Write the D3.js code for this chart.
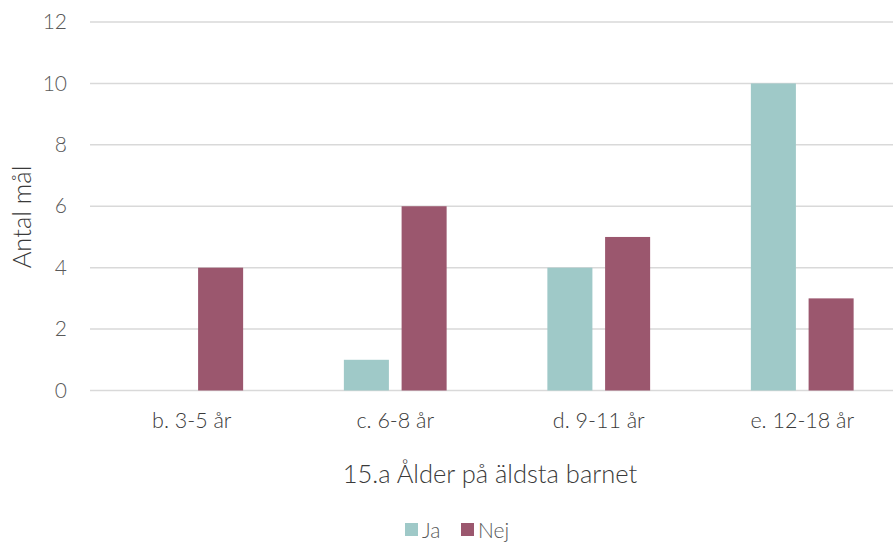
<!DOCTYPE html>
<html><head><meta charset="utf-8">
<script src="https://cdn.jsdelivr.net/npm/d3@7"></script>
<style>body{margin:0;background:#fff}svg{display:block}text{font-family:Lato,"Open Sans",sans-serif;font-weight:300}</style>
</head><body><svg id="c" width="893" height="542"></svg>
<script>
const categories = ["b. 3-5 år","c. 6-8 år","d. 9-11 år","e. 12-18 år"];
const seriesNames = ["Ja","Nej"];
const ja = [0,1,4,10];
const nej = [4,6,5,3];
const yTicks = [0,2,4,6,8,10,12];
const colors = ["#9fc9c8","#9b576e"];
const xTitle = "15.a Ålder på äldsta barnet";
const yTitle = "Antal mål";

(function(){
const svg = d3.select("#c");
const mLeft = 90, mRight = 904, mTop = 22, mBottom = 390.5;
const x = d3.scaleBand().domain(categories).range([mLeft,mRight]);
const y = d3.scaleLinear().domain([0,12]).range([mBottom,mTop]);
const groupW = x.bandwidth()*0.505;
const x1 = d3.scaleBand().domain(seriesNames).range([0,groupW]).paddingInner(0.22);

svg.append("g").selectAll("line").data(yTicks).join("line")
  .attr("x1",mLeft).attr("x2",mRight).attr("y1",d=>y(d)).attr("y2",d=>y(d))
  .attr("stroke","#d9d9d9").attr("stroke-width",1.5);

const yAxis = d3.axisLeft(y).tickValues(yTicks).tickSize(0).tickPadding(0);
const ya = svg.append("g").attr("transform","translate(67,0)").call(yAxis);
ya.select(".domain").remove();
ya.selectAll("text").attr("font-size",21).attr("fill","#595959").attr("font-family","Lato").attr("font-weight",300);

const data = [ja,nej];
data.forEach((vals,si)=>{
  svg.append("g").selectAll("rect").data(vals).join("rect")
    .attr("x",(d,i)=>x(categories[i])+(x.bandwidth()-groupW)/2+x1(seriesNames[si]))
    .attr("width",x1.bandwidth())
    .attr("y",d=>y(d)).attr("height",d=>y(0)-y(d))
    .attr("fill",colors[si]);
});

const xAxis = d3.axisBottom(x).tickSize(0).tickPadding(0);
const xa = svg.append("g").attr("transform","translate(0,0)").call(xAxis);
xa.select(".domain").remove();
xa.selectAll("text").attr("dy",null).attr("y",428).attr("font-size",21.5).attr("fill","#3a3a3a").attr("font-family","Lato").attr("font-weight",300);

svg.append("text").attr("x",490).attr("y",483).attr("text-anchor","middle")
  .attr("font-size",25.5).attr("fill","#3a3a3a").text(xTitle);
svg.append("text").attr("transform","translate(31,217) rotate(-90)").attr("text-anchor","middle")
  .attr("font-size",25.5).attr("fill","#3a3a3a").text(yTitle);

const lg = svg.append("g");
const lx = [405,461];
seriesNames.forEach((s,i)=>{
  lg.append("rect").attr("x",lx[i]).attr("y",523).attr("width",13).attr("height",13).attr("fill",colors[i]);
  lg.append("text").attr("x",lx[i]+17).attr("y",538).attr("font-size",21).attr("fill","#595959").text(s);
});
})();
</script></body></html>
